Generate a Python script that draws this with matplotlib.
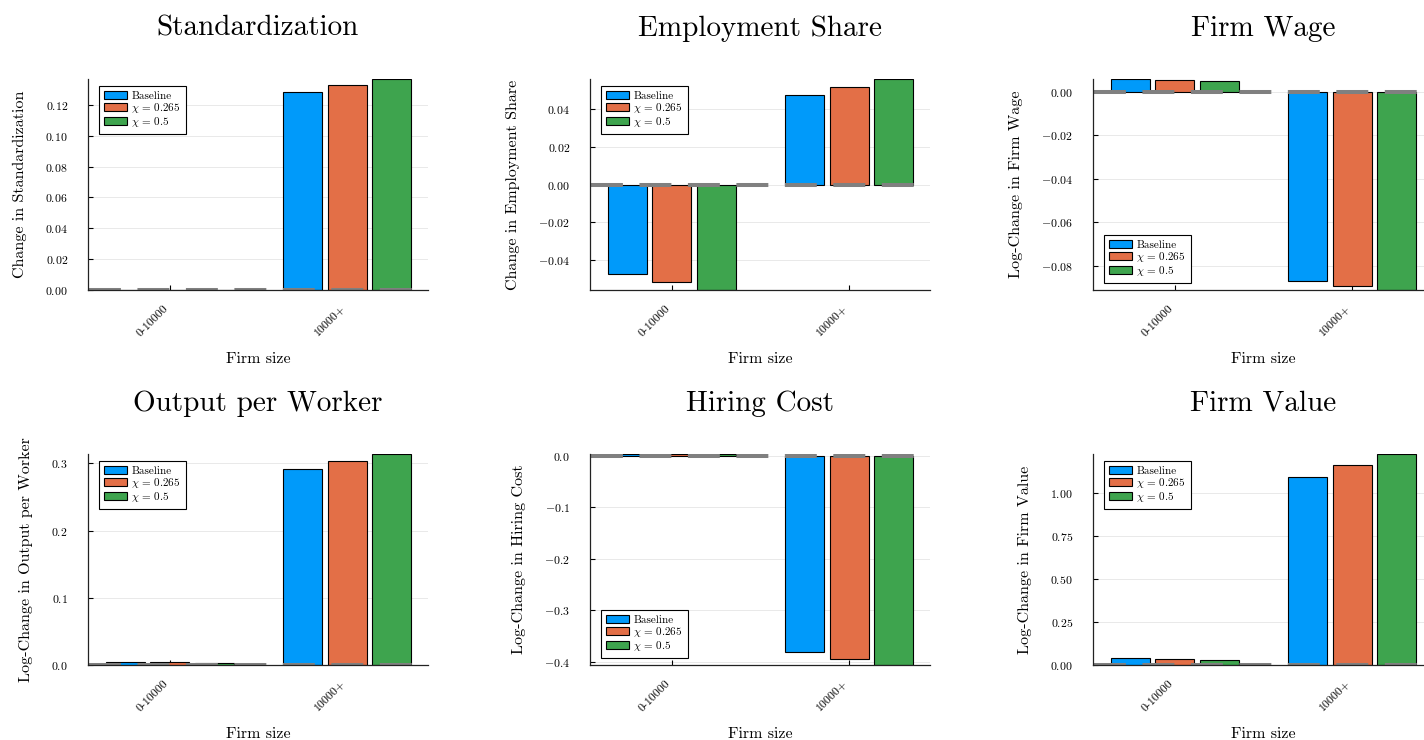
import matplotlib
matplotlib.use("Agg")
import matplotlib.pyplot as plt
from matplotlib.ticker import FuncFormatter

plt.rcParams["font.family"] = "serif"
plt.rcParams["font.serif"] = ["cmr10"]
plt.rcParams["mathtext.fontset"] = "cm"
plt.rcParams["axes.formatter.use_mathtext"] = True
plt.rcParams["lines.scale_dashes"] = False

# ---- data -------------------------------------------------------------
categories = ["0-10000", "10000+"]
series_labels = ["Baseline", r"$\chi\,=\,0.265$", r"$\chi\,=\,0.5$"]
series_colors = ["#009AFA", "#E36F47", "#3EA44E"]

std_baseline = [0.0003, 0.1286]
std_chi0265 = [0.0003, 0.1330]
std_chi05 = [0.0003, 0.1367]

emp_baseline = [-0.0473, 0.0474]
emp_chi0265 = [-0.0516, 0.0516]
emp_chi05 = [-0.0556, 0.0556]

wage_baseline = [0.0058, -0.0869]
wage_chi0265 = [0.0054, -0.0892]
wage_chi05 = [0.0051, -0.0910]

opw_baseline = [0.0040, 0.2910]
opw_chi0265 = [0.0038, 0.3030]
opw_chi05 = [0.0037, 0.3140]

hire_baseline = [0.0040, -0.3807]
hire_chi0265 = [0.0038, -0.3940]
hire_chi05 = [0.0036, -0.4066]

value_baseline = [0.039, 1.093]
value_chi0265 = [0.033, 1.165]
value_chi05 = [0.027, 1.229]

std_ticks = [0.00, 0.02, 0.04, 0.06, 0.08, 0.10, 0.12]
emp_ticks = [-0.04, -0.02, 0.00, 0.02, 0.04]
wage_ticks = [-0.08, -0.06, -0.04, -0.02, 0.00]
opw_ticks = [0.0, 0.1, 0.2, 0.3]
hire_ticks = [-0.4, -0.3, -0.2, -0.1, 0.0]
value_ticks = [0.00, 0.25, 0.50, 0.75, 1.00]

panels = [
    ("Standardization", "Change in Standardization",
     [std_baseline, std_chi0265, std_chi05], std_ticks, 2, "upper left"),
    ("Employment Share", "Change in Employment Share",
     [emp_baseline, emp_chi0265, emp_chi05], emp_ticks, 2, "upper left"),
    ("Firm Wage", "Log-Change in Firm Wage",
     [wage_baseline, wage_chi0265, wage_chi05], wage_ticks, 2, "lower left"),
    ("Output per Worker", "Log-Change in Output per Worker",
     [opw_baseline, opw_chi0265, opw_chi05], opw_ticks, 1, "upper left"),
    ("Hiring Cost", "Log-Change in Hiring Cost",
     [hire_baseline, hire_chi0265, hire_chi05], hire_ticks, 1, "lower left"),
    ("Firm Value", "Log-Change in Firm Value",
     [value_baseline, value_chi0265, value_chi05], value_ticks, 2, "upper left"),
]

# ---- layout -----------------------------------------------------------
W, H = 1424, 740
fig = plt.figure(figsize=(W / 100, H / 100), dpi=100)

col_left = [88, 590, 1093]
row_top = [79, 454]
ax_w, ax_h = 340, 211

group_offsets = [-0.25, 0.0, 0.25]
bar_width = 0.22

for i, (title, ylabel, series, yticks, decimals, legend_loc) in enumerate(panels):
    r, c = divmod(i, 3)
    left = col_left[c] / W
    bottom = 1 - (row_top[r] + ax_h) / H
    ax = fig.add_axes([left, bottom, ax_w / W, ax_h / H])

    x = list(range(len(categories)))
    for vals, lab, col, off in zip(series, series_labels, series_colors, group_offsets):
        ax.bar([xi + off for xi in x], vals, width=bar_width, color=col,
               edgecolor="black", linewidth=0.8, label=lab, zorder=2)

    # dashed zero reference line
    ax.axhline(0, color="#808080", linewidth=2.9, dash_capstyle="butt",
               linestyle=(34.2, (23.0, 11.9)), zorder=3)

    all_vals = [v for s in series for v in s]
    ax.set_ylim(min(0, min(all_vals)), max(0, max(all_vals)))
    ax.set_xlim(-0.46, 1.455)

    ax.set_yticks(yticks)
    ax.yaxis.set_major_formatter(
        FuncFormatter(lambda v, p, d=decimals: "$%.*f$" % (d, v)))
    ax.set_xticks(x)
    ax.set_xticklabels(categories, rotation=45, ha="right", va="top")

    ax.tick_params(axis="both", direction="in", length=3.5, width=0.8,
                   labelsize=8.5, color="black")
    ax.tick_params(axis="y", pad=14.5)
    ax.tick_params(axis="x", pad=9.5)

    ax.grid(axis="y", color="black", alpha=0.1, linewidth=0.6, zorder=0)
    ax.set_axisbelow(True)
    for s in ["top", "right"]:
        ax.spines[s].set_visible(False)
    for s in ["left", "bottom"]:
        ax.spines[s].set_linewidth(0.9)
        ax.spines[s].set_color("#222222")
        ax.spines[s].set_zorder(4)

    ax.set_title(title, fontsize=21, pad=31)
    ax.set_ylabel(ylabel, fontsize=11.5, labelpad=13)
    ax.set_xlabel("Firm size", fontsize=11.5, labelpad=10)

    if legend_loc == "upper left":
        anchor = (11 / ax_w, 1 - 7 / ax_h)
    else:
        anchor = (11 / ax_w, 7 / ax_h)
    leg = ax.legend(loc=legend_loc, bbox_to_anchor=anchor, borderaxespad=0,
                    fontsize=8, fancybox=False, framealpha=1,
                    edgecolor="black", handlelength=2.1, handleheight=0.75,
                    handletextpad=0.35, labelspacing=0.0, borderpad=0.45)
    leg.get_frame().set_linewidth(0.8)
    leg.set_zorder(5)

fig.savefig("out.png", dpi=100)
